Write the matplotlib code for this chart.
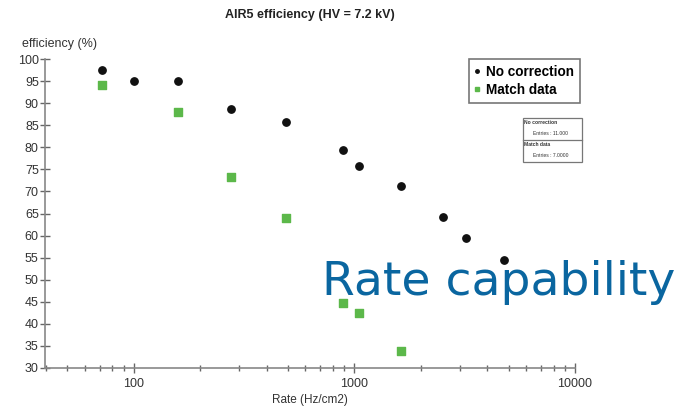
import matplotlib
matplotlib.use('Agg')
import matplotlib.pyplot as plt
from matplotlib.lines import Line2D
from matplotlib.ticker import FixedLocator, NullFormatter

# efficiency vs rate, AIR5 chamber at HV = 7.2 kV
rate_nocorr = [72, 100, 158, 276, 489, 887, 1047, 1625, 2518, 3206, 4766]
eff_nocorr = [97.5, 95.0, 95.0, 88.6, 85.8, 79.4, 75.8, 71.3, 64.3, 59.4, 54.4]

rate_match = [72, 158, 276, 489, 887, 1047, 1625]
eff_match = [94.0, 87.9, 73.3, 64.0, 44.8, 42.5, 33.8]

n_nocorr = 11
n_match = 7

plt.rcParams['font.family'] = ['Liberation Sans', 'DejaVu Sans']

fig = plt.figure(figsize=(6.87, 4.08), dpi=100)
ax = fig.add_axes([45 / 687, 40 / 408, 530 / 687, 309 / 408])

ax.scatter(rate_nocorr, eff_nocorr, s=28, marker='o', color='#111111', zorder=3)
ax.scatter(rate_match, eff_match, s=28, marker='s', color='#5cb84a', zorder=3)

ax.set_xscale('log')
ax.set_xlim(39.6, 10000)
ax.set_ylim(30, 100)

# ROOT style axes: only left and bottom, ticks crossing the axis
for side in ['top', 'right']:
    ax.spines[side].set_visible(False)
for side in ['left', 'bottom']:
    ax.spines[side].set_color('#888888')
    ax.spines[side].set_linewidth(1.2)

ax.yaxis.set_major_locator(FixedLocator(range(30, 101, 5)))
ax.xaxis.set_major_locator(FixedLocator([100, 1000, 10000]))
minors = [m * 10 ** e for e in (1, 2, 3) for m in range(2, 10)]
ax.xaxis.set_minor_locator(FixedLocator([v for v in minors if v >= 40]))
ax.xaxis.set_minor_formatter(NullFormatter())
ax.set_xticklabels(['100', '1000', '10000'])

ax.tick_params(axis='both', which='both', direction='inout', color='#666666',
               labelsize=9, labelcolor='#333333')
ax.tick_params(axis='y', which='major', length=7, width=1, pad=1)
ax.tick_params(axis='x', which='major', length=7, width=1, pad=4)
ax.tick_params(axis='x', which='minor', length=5, width=1)

fig.text(310 / 687, 1 - 15 / 408, 'AIR5 efficiency (HV = 7.2 kV)', ha='center',
         va='center', fontsize=9, fontweight='bold', color='#222222')
fig.text(22 / 687, 1 - 44 / 408, 'efficiency (%)', ha='left', va='center',
         fontsize=9, color='#333333')
fig.text(310 / 687, 1 - 400 / 408, 'Rate (Hz/cm2)', ha='center', va='center',
         fontsize=8.5, color='#333333')

# legend box
handles = [Line2D([], [], ls='', marker='o', ms=2.5, color='#111111'),
           Line2D([], [], ls='', marker='s', ms=2.5, color='#5cb84a')]
leg = ax.legend(handles, ['No correction', 'Match data'], loc='upper left',
                bbox_to_anchor=(469 / 687, 1 - 59 / 408), bbox_transform=fig.transFigure,
                fancybox=False, framealpha=1, edgecolor='#777777', handlelength=0.3,
                handletextpad=0.5, borderpad=0.45, borderaxespad=0, labelspacing=0.3,
                prop={'weight': 'bold', 'size': 9.8})
leg.get_frame().set_linewidth(1.2)

# statistics box
sx0, sx1 = 523 / 687, 582 / 687
sy0, sy1 = 1 - 162 / 408, 1 - 118 / 408
smid = (sy0 + sy1) / 2
fig.add_artist(plt.Rectangle((sx0, sy0), sx1 - sx0, sy1 - sy0, transform=fig.transFigure,
                             fill=False, edgecolor='#777777', linewidth=0.9))
fig.add_artist(plt.Line2D([sx0, sx1], [smid, smid], transform=fig.transFigure,
                          color='#777777', linewidth=0.9))
stat_lines = [('No correction', sy1 - 0.012, sx0 + 0.002),
              (f'Entries : {n_nocorr:.3f}', sy1 - 0.037, sx0 + 0.015),
              ('Match data', smid - 0.012, sx0 + 0.002),
              (f'Entries : {n_match:.4f}', smid - 0.037, sx0 + 0.015)]
for txt, yy, xx in stat_lines:
    fig.text(xx, yy, txt, fontsize=3.6, color='#333333', ha='left', va='center',
             fontweight='bold' if 'Entries' not in txt else 'normal')

fig.text(322 / 687, 1 - 295 / 408, 'Rate capability', ha='left', va='baseline',
         fontsize=34, color='#0a66a0', family='DejaVu Sans')

fig.savefig('out.png', dpi=100)
